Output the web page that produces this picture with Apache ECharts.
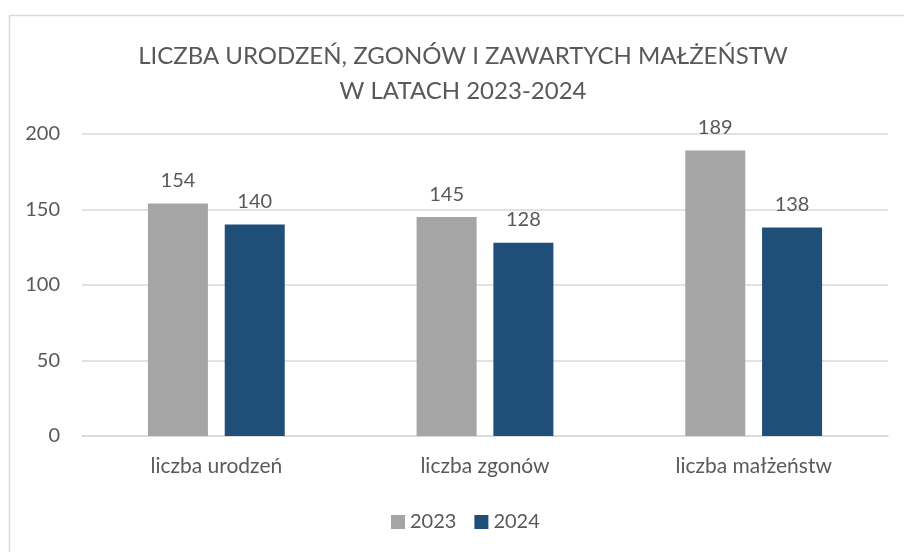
<!DOCTYPE html>
<html>
<head>
<meta charset="utf-8">
<script src="https://cdn.jsdelivr.net/npm/echarts@6/dist/echarts.min.js"></script>
<style>
  html, body { margin: 0; padding: 0; background: #fff; }
  #chart { width: 904px; height: 552px; }
</style>
</head>
<body>
<div id="chart"></div>
<script>
// dane wykresu
const categories = ['liczba urodzeń', 'liczba zgonów', 'liczba małżeństw'];
const years = ['2023', '2024'];
const values2023 = [154, 145, 189];
const values2024 = [140, 128, 138];
const yTicks = [0, 50, 100, 150, 200];

const textColor = '#595959';
const fontFamily = 'Lato, "Open Sans", sans-serif';

const chart = echarts.init(document.getElementById('chart'));

const option = {
    backgroundColor: '#ffffff',
    textStyle: { fontFamily: fontFamily, color: textColor },
    title: {
        text: 'LICZBA URODZEŃ, ZGONÓW I ZAWARTYCH MAŁŻEŃSTW\nW LATACH 2023-2024',
        left: 458,
        top: 34,
        textAlign: 'center',
        textStyle: {
            fontFamily: fontFamily,
            fontSize: 24,
            fontWeight: 'normal',
            color: textColor,
            lineHeight: 35,
            align: 'center'
        }
    },
    graphic: [{
        type: 'rect',
        left: 7,
        top: 13,
        shape: { width: 1000, height: 1000 },
        style: { fill: 'none', stroke: '#d9d9d9', lineWidth: 1.5 },
        silent: true,
        z: -1
    }],
    legend: {
        data: years,
        left: 386,
        top: 507,
        itemWidth: 14,
        itemHeight: 14,
        itemGap: 18,
        icon: 'rect',
        textStyle: { fontFamily: fontFamily, fontSize: 20, color: textColor }
    },
    grid: { left: 82, right: 16, top: 134, bottom: 116, containLabel: false },
    xAxis: {
        type: 'category',
        data: categories,
        axisTick: { show: false },
        axisLine: { lineStyle: { color: '#d9d9d9', width: 1.5 } },
        axisLabel: { fontFamily: fontFamily, fontSize: 21, color: textColor, margin: 20 }
    },
    yAxis: {
        type: 'value',
        min: yTicks[0],
        max: yTicks[yTicks.length - 1],
        interval: 50,
        axisLine: { show: false },
        axisTick: { show: false },
        splitLine: { lineStyle: { color: '#d9d9d9', width: 1.5 } },
        axisLabel: { fontFamily: fontFamily, fontSize: 20, color: textColor, margin: 22 }
    },
    series: [{
        name: years[0],
        type: 'bar',
        data: values2023,
        barWidth: 60,
        barGap: '28%',
        itemStyle: { color: '#a5a5a5' },
        label: { show: true, position: 'top', distance: 13, fontFamily: fontFamily, fontSize: 20, color: textColor }
    }, {
        name: years[1],
        type: 'bar',
        data: values2024,
        barWidth: 60,
        barGap: '28%',
        itemStyle: { color: '#1f4e79' },
        label: { show: true, position: 'top', distance: 13, fontFamily: fontFamily, fontSize: 20, color: textColor }
    }]
};

chart.setOption(option);
window.addEventListener('resize', () => chart.resize());
</script>
</body>
</html>
